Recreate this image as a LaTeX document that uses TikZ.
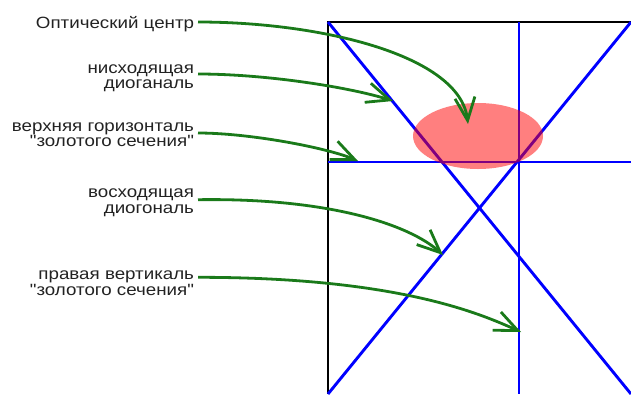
\documentclass[tikz,border=0pt]{standalone}
\usepackage{fontspec}
\setmainfont{Liberation Sans}
\newfontfamily\labelfont[FakeStretch=1.15]{Liberation Sans}
\usetikzlibrary{arrows.meta}
\definecolor{ink}{HTML}{222222}
\definecolor{guide}{HTML}{0000FF}
\definecolor{pointer}{HTML}{1A7A1A}
\definecolor{spot}{HTML}{FF0000}
\tikzset{
  lab/.style={anchor=east,align=right,inner sep=0pt,outer xsep=4pt,text=ink,font=\labelfont\fontsize{16.3}{15.3}\selectfont},
  frame/.style={draw=black,line width=2.8pt},
  gline/.style={draw=guide,line width=2.9pt},
  ptr/.style={-{Straight Barb[length=23pt,width=20pt]},draw=pointer,line width=2.8pt},
}
\begin{document}
\begin{tikzpicture}[x=1pt,y=-1pt]
\useasboundingbox (0,0) rectangle (631,394);
\clip (0,0) rectangle (631,394);
\coordinate (nw) at (328,22);
\coordinate (ne) at (631,22);
\coordinate (sw) at (328,394);
\coordinate (se) at (631,394);
\draw[frame] (sw) |- (ne);
\draw[gline] (nw) -- (se);
\draw[gline] (sw) -- (ne);
\draw[gline] (519,22) -- (519,394);
\draw[gline] (328,162) -- (631,162);
\fill[spot,fill opacity=.5] (478,136) ellipse [x radius=65,y radius=33];
\node[lab] (l1) at (198,24) {Оптический центр};
\node[lab] (l2) at (198,78) {нисходящая\\диоганаль};
\node[lab] (l3) at (198,135) {верхняя горизонталь\\"золотого сечения"};
\node[lab] (l4) at (198,202.7) {восходящая\\диогональ};
\node[lab] (l5) at (198,283.3) {правая вертикаль\\"золотого сечения"};
\coordinate (t1) at (468,124);
\coordinate (t2) at (393,101);
\coordinate (t3) at (358,161);
\coordinate (t4) at (443,255);
\coordinate (t5) at (521,332);
\draw[ptr] ([yshift=2pt]l1.east) .. controls +(122,0) and +(-8,-69) .. (t1);
\draw[ptr] ([yshift=4pt]l2.east) .. controls +(70,0) and +(-40,-13) .. (t2);
\draw[ptr] ([yshift=2pt]l3.east) .. controls +(52,0) and +(-30,-13) .. (t3);
\draw[ptr] ([yshift=3pt]l4.east) .. controls +(132,-2) and +(-33,-30) .. (t4);
\draw[ptr] ([yshift=6pt]l5.east) .. controls +(200,0) and +(-40,-18) .. (t5);
\end{tikzpicture}
\end{document}
